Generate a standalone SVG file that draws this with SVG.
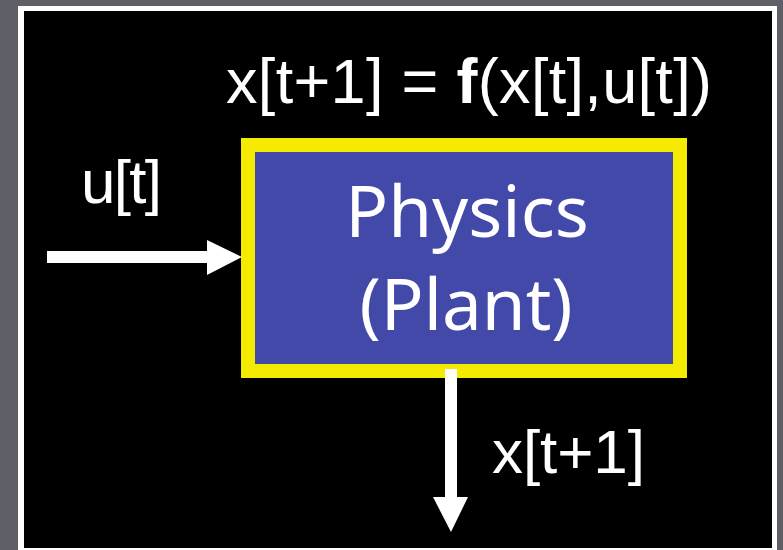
<svg xmlns="http://www.w3.org/2000/svg" width="783" height="550" viewBox="0 0 783 550">
<style>
.lbl{font-family:'Liberation Sans',sans-serif;font-size:62px;fill:#ffffff}
.box{font-family:'Noto Sans',sans-serif;font-size:71px;fill:#ffffff;text-anchor:middle}
.arrow{fill:#ffffff}
</style>
<rect x="0" y="0" width="783" height="550" fill="#5e5f67"/>
<rect x="18" y="6" width="759" height="544" fill="#ffffff"/>
<rect x="24" y="11" width="748" height="537" fill="#000000"/>
<text class="lbl" x="226" y="103" style="font-size:63px" textLength="486" lengthAdjust="spacing">x[t+1] = <tspan font-weight="bold">f</tspan>(x[t],u[t])</text>
<g id="plant">
<rect x="248" y="145" width="432" height="226" fill="#4349a8" stroke="#f5eb00" stroke-width="14"/>
<text class="box" x="467" y="237">Physics</text>
<text class="box" x="466" y="330">(Plant)</text>
</g>
<g id="connectors">
<polygon class="arrow" points="47,251 207,251 207,240 242,257 207,275 207,263 47,263"/>
<polygon class="arrow" points="445,369 457,369 457,497 468,497 451,532 433,497 445,497"/>
</g>
<text class="lbl" x="81" y="203" textLength="81" lengthAdjust="spacing">u[t]</text>
<text class="lbl" x="492" y="473" textLength="153" lengthAdjust="spacing">x[t+1]</text>
</svg>
